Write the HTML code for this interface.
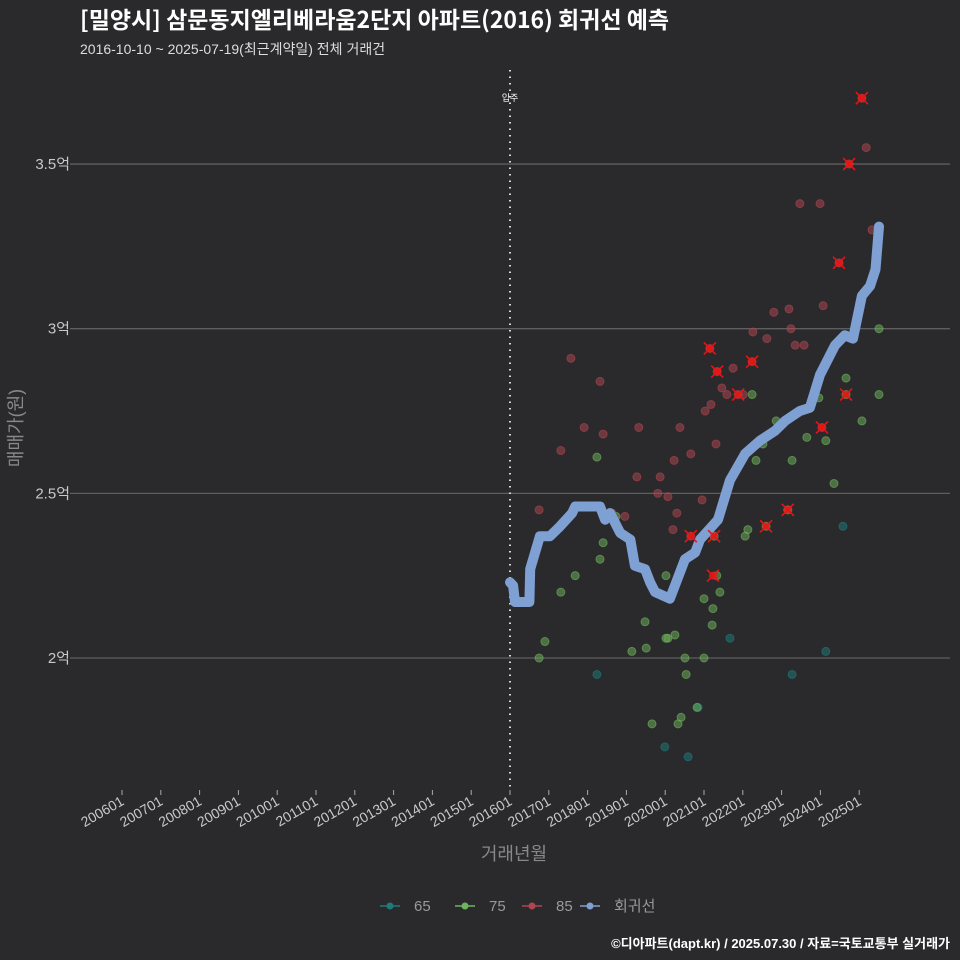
<!DOCTYPE html>
<html><head><meta charset="utf-8"><style>
body{margin:0;background:#2a2a2c;width:960px;height:960px;overflow:hidden;font-family:"Liberation Sans","Noto Sans CJK KR",sans-serif;}
svg{display:block}
</style></head><body>
<svg id="chart" width="960" height="960">
<rect width="960" height="960" fill="#2a2a2c"/>
<text x="80" y="28" font-size="23" font-weight="bold" fill="#ffffff" font-family="Noto Sans CJK KR,sans-serif">[밀양시] 삼문동지엘리베라움2단지 아파트(2016) 회귀선 예측</text>
<text x="80" y="54" font-size="14" fill="#dddddd" font-family="Liberation Sans,Noto Sans CJK KR,sans-serif">2016-10-10 ~ 2025-07-19(최근계약일) 전체 거래건</text>
<g id="grid"></g><g id="axes"></g><g id="marks"></g>
<text transform="translate(22,428) rotate(-90)" text-anchor="middle" font-size="18" fill="#888" font-family="Liberation Sans,Noto Sans CJK KR,sans-serif">매매가(원)</text>
<text x="514" y="860" text-anchor="middle" font-size="18" fill="#888" font-family="Liberation Sans,Noto Sans CJK KR,sans-serif">거래년월</text>
<g id="legend" font-size="15" fill="#999" font-family="Liberation Sans,Noto Sans CJK KR,sans-serif"></g>
<text x="950" y="948" text-anchor="end" font-size="13" font-weight="bold" fill="#ffffff" font-family="Liberation Sans,Noto Sans CJK KR,sans-serif">©디아파트(dapt.kr) / 2025.07.30 / 자료=국토교통부 실거래가</text>
</svg>
<script>
const yTicks=[2,2.5,3,3.5];
const yTickLabels=["2억","2.5억","3억","3.5억"];
const xTickYears=[2006,2007,2008,2009,2010,2011,2012,2013,2014,2015,2016,2017,2018,2019,2020,2021,2022,2023,2024,2025];
const xTickLabels=["200601","200701","200801","200901","201001","201101","201201","201301","201401","201501","201601","201701","201801","201901","202001","202101","202201","202301","202401","202501"];
const redX=[2016.75,2017.31,2017.57,2017.91,2018.32,2018.40,2018.63,2018.96,2019.27,2019.32,2019.81,2019.87,2020.07,2020.20,2020.23,2020.30,2020.38,2020.66,2020.95,2021.03,2021.18,2021.31,2021.46,2021.59,2021.75,2022.01,2022.26,2022.62,2022.80,2023.19,2023.24,2023.35,2023.47,2023.58,2023.99,2024.07,2025.18,2025.33,2025.07,2024.74,2024.48,2024.04,2021.15,2021.34,2022.24,2021.88,2020.66];
const redY=[2.45,2.63,2.91,2.70,2.84,2.68,2.44,2.43,2.55,2.70,2.50,2.55,2.49,2.39,2.60,2.44,2.70,2.62,2.48,2.75,2.77,2.65,2.82,2.80,2.88,2.80,2.99,2.97,3.05,3.06,3.00,2.95,3.38,2.95,3.38,3.07,3.55,3.30,3.70,3.50,3.20,2.70,2.94,2.87,2.90,2.80,2.37];
const greenX=[2016.75,2016.90,2017.31,2017.68,2018.24,2018.32,2018.40,2018.73,2019.14,2019.51,2019.48,2019.66,2020.41,2020.33,2020.02,2020.07,2020.25,2020.02,2020.51,2020.54,2020.82,2021.00,2021.00,2021.21,2021.23,2021.41,2021.33,2021.26,2022.06,2022.13,2022.24,2022.34,2022.52,2022.60,2022.86,2023.16,2023.27,2023.65,2023.96,2024.14,2024.35,2024.66,2024.66,2025.07,2025.51,2025.51];
const greenY=[2.00,2.05,2.20,2.25,2.61,2.30,2.35,2.43,2.02,2.03,2.11,1.80,1.82,1.80,2.06,2.06,2.07,2.25,2.00,1.95,1.85,2.00,2.18,2.10,2.15,2.20,2.25,2.37,2.37,2.39,2.80,2.60,2.65,2.40,2.72,2.45,2.60,2.67,2.79,2.66,2.53,2.85,2.80,2.72,3.00,2.80];
const tealX=[2018.24,2019.99,2020.59,2020.85,2021.67,2023.27,2024.14,2024.58];
const tealY=[1.95,1.73,1.70,1.85,2.06,1.95,2.02,2.40];
const crossX=[2025.07,2024.74,2024.48,2024.04,2021.15,2021.34,2022.24,2021.88,2020.66,2024.66,2023.16,2022.60,2021.26,2021.23];
const crossY=[3.70,3.50,3.20,2.70,2.94,2.87,2.90,2.80,2.37,2.80,2.45,2.40,2.37,2.25];
const regX=[2016.0,2016.08,2016.13,2016.5,2016.52,2016.77,2017.03,2017.29,2017.6,2017.68,2018.0,2018.32,2018.45,2018.58,2018.84,2019.1,2019.22,2019.48,2019.61,2019.74,2020.12,2020.25,2020.51,2020.77,2020.9,2021.36,2021.67,2022.06,2022.44,2022.83,2023.09,2023.47,2023.73,2023.99,2024.38,2024.63,2024.84,2025.07,2025.28,2025.42,2025.51];
const regY=[2.23,2.22,2.17,2.17,2.27,2.37,2.37,2.40,2.44,2.46,2.46,2.46,2.42,2.44,2.38,2.36,2.28,2.27,2.23,2.20,2.18,2.22,2.30,2.32,2.36,2.42,2.54,2.62,2.66,2.69,2.72,2.75,2.76,2.86,2.95,2.98,2.97,3.10,3.13,3.18,3.31];
const NS='http://www.w3.org/2000/svg';
const X=y=>510+(y-2016)*38.8;
const Y=v=>658-(v-2)*329.3;
function mk(tag,attrs,parent){const e=document.createElementNS(NS,tag);for(const k in attrs)e.setAttribute(k,attrs[k]);parent.appendChild(e);return e;}
const grid=document.getElementById('grid'),axes=document.getElementById('axes'),marks=document.getElementById('marks'),legend=document.getElementById('legend');
yTicks.forEach((t,i)=>{
 const l=mk('line',{x1:70,x2:950,y1:Y(t),y2:Y(t),stroke:'#5e5e60','stroke-width':1.3},grid);
 
 
 const tx=mk('text',{x:70,y:Y(t)+5,'text-anchor':'end','font-size':15,fill:'#c8c8c8'},axes);
 tx.textContent=yTickLabels[i];
 
 
});
xTickYears.forEach((t,i)=>{
 const x=X(t);
 const l=mk('line',{x1:x,x2:x,y1:790,y2:795,stroke:'#aaa','stroke-width':1},axes);
 
 
 const tx=mk('text',{x:x+3,y:804,'text-anchor':'end','font-size':14,fill:'#c8c8c8',transform:`rotate(-30 ${x+3} 804)`},axes);
 tx.textContent=xTickLabels[i];
 
 
});
const vl=mk('line',{x1:X(2016),x2:X(2016),y1:70,y2:790,stroke:'#ddd','stroke-width':2,'stroke-dasharray':'1.5 5'},grid);


const vt=mk('text',{x:X(2016),y:101,'text-anchor':'middle','font-size':9,fill:'#fff'},grid);
vt.textContent='입주';


function pts(xs,ys,color,name){xs.forEach((x,i)=>{
 const c=mk('circle',{cx:X(x),cy:Y(ys[i]),r:4,fill:color,'fill-opacity':0.5,stroke:color,'stroke-opacity':0.6},marks);
 
 
});}
pts(tealX,tealY,'#1f7a7a','point-65');
pts(greenX,greenY,'#6fb45c','point-75');
pts(redX,redY,'#b04550','point-85');
let d=regX.map((x,i)=>(i?'L':'M')+X(x).toFixed(1)+' '+Y(regY[i]).toFixed(1)).join(' ');
const rp=mk('path',{d:d,fill:'none',stroke:'#7fa0d2','stroke-width':10,'stroke-linecap':'round','stroke-linejoin':'round'},marks);


crossX.forEach((x,i)=>{
 const cx=X(x),cy=Y(crossY[i]);
 const g=mk('g',{},marks);
 
 
 mk('circle',{cx:cx,cy:cy,r:4,fill:'#e02020','fill-opacity':0.8},g);
 mk('path',{d:`M${cx-6} ${cy-6}L${cx+6} ${cy+6}M${cx+6} ${cy-6}L${cx-6} ${cy+6}`,stroke:'#ee1111','stroke-width':1.6},g);
});
const leg=[['65','#1f7a7a',380],['75','#6fb45c',455],['85','#b04550',522],['회귀선','#7fa0d2',580]];
leg.forEach(([lab,col,x])=>{
 const g=mk('g',{},legend);
 
 
 mk('line',{x1:x,x2:x+20,y1:906,y2:906,stroke:col,'stroke-width':1.5},g);
 mk('circle',{cx:x+10,cy:906,r:3.5,fill:col},g);
 const t=mk('text',{x:x+34,y:911,fill:'#999'},g);t.textContent=lab;
});
</script>
</body></html>
